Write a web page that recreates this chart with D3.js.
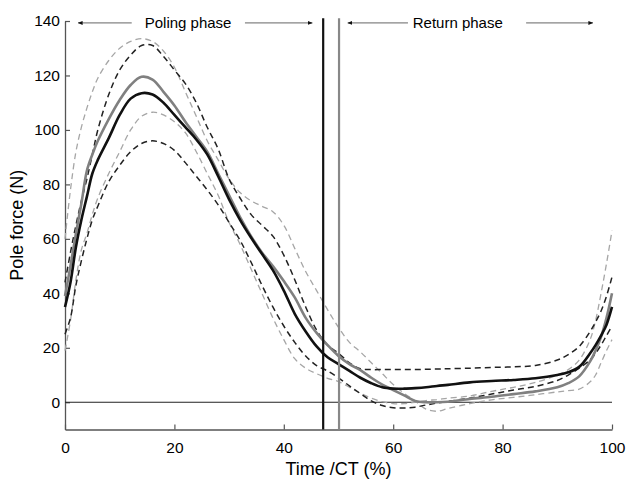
<!DOCTYPE html>
<html>
<head>
<meta charset="utf-8">
<script src="https://cdn.jsdelivr.net/npm/d3@7"></script>
<style>
  body { margin: 0; background: #fff; }
  svg text { font-family: "Liberation Sans", Arial, sans-serif; }
</style>
</head>
<body>
<div id="chart"></div>
<script>
// sample points (% of cycle time)
var timePct = [0,1,2,3,4,5,6,8,10,12,14,16,18,20,22,24,26,28,30,32,34,36,38,40,42,44,46,48,50,52,54,56,58,60,62,64,66,68,70,74,78,82,86,90,92,94,96,97,98,99,100];

// group A mean (black) and +/- SD (black dashed)
var meanA = [35,44,57,67,75.5,84,89,97,105.5,111.5,113.5,113,110,105.5,101,96.5,91,83,74.5,67,60.5,54.5,48.5,41,32.5,26,20.5,16.5,14,11.5,9,7,5.5,5,5,5.2,5.5,6,6.4,7.3,7.8,8.2,8.8,10,11,13,18,21,24.5,28.5,35];
var upperA = [44,55,65,74,82,91,100,113,122,127.5,131,131,127,122,117,110,101,93,82,75,69,65,61,54,45,35,26.5,21,18,14.5,12.3,12,12,12,12,12,12.1,12.2,12.3,12.5,12.8,13,13.5,15.5,17.5,20.5,26,29.5,33.5,39,46];
var lowerA = [25,31,43,52,60,67,72,81,87,92,95,96,95,92.5,88,83,78,72.5,66,59.5,51.5,43,35,28,22,17,13.5,11.5,9,6,3.2,0.5,-1.2,-2,-2.1,-1.8,-1,-0.3,0.3,1.5,3,4.5,5.8,8,10,12.5,15.6,18,21,24.5,28];

// group B mean (grey) and +/- SD (grey dashed)
var meanB = [39,50,62,73,85,91,96,104,111,116.5,119.5,118.5,114,109,103,97.5,92,84,76,68,61,55,50,44.5,38.5,31,25.5,21,17,14,11.8,9,6.5,4.5,2.5,0.5,0,0,0.2,1.2,2,3,4,5.5,7,9.5,15,19,24,31,40];
var upperB = [60,78,92,101,108,114,119,125.5,130,132.5,133.5,132.5,129,123,114,105,96,89,82,77,74,72,70,65,56.5,48,41,34,27.5,22,18.5,14.5,10.5,6.5,3.3,0.5,-2.5,-3.3,-2.3,-0.5,0.9,1.8,2.8,3.8,4.3,4.8,7.5,10,14.5,19,23];
var lowerB = [19,30,45,56,62,69,75,84,92,100,105,106.5,105.5,103,99,92,84,76,66,58,49,40,31,23,16,12.5,10.5,8.8,7.6,5.5,3.3,1.5,0.2,-0.5,-0.5,0,0.6,1,1.5,2.3,4,5.5,7.3,10,12,15.5,23,30,40,51,63];

// phase boundaries (% CT)
var phaseEnd = [47.2, 50.1];

var xTicks = [0,20,40,60,80,100];
var yTicks = [0,20,40,60,80,100,120,140];

var width = 627, height = 484;
var margin = {left: 65, right: 15, top: 21, bottom: 54.5};
var font = "'Liberation Sans', Arial, sans-serif";

var svg = d3.select("#chart").append("svg")
    .attr("width", width)
    .attr("height", height);

var x = d3.scaleLinear().domain([0, 100]).range([margin.left, width - margin.right]);
var y = d3.scaleLinear().domain([-10, 140]).range([height - margin.bottom, margin.top]);

// axes, ticks pointing in
var xAxis = svg.append("g")
    .attr("transform", "translate(0," + y(-10) + ")")
    .call(d3.axisBottom(x).tickValues(xTicks).tickSizeInner(-5).tickSizeOuter(0).tickPadding(12));
var yAxis = svg.append("g")
    .attr("transform", "translate(" + x(0) + ",0)")
    .call(d3.axisLeft(y).tickValues(yTicks).tickSizeInner(-5).tickSizeOuter(0).tickPadding(5));

[xAxis, yAxis].forEach(function(a) {
    a.attr("font-family", font).attr("font-size", 15.5);
    a.select(".domain").attr("stroke", "#555").attr("stroke-width", 1.3);
    a.selectAll(".tick line").attr("stroke", "#555").attr("stroke-width", 1.2);
    a.selectAll(".tick text").attr("fill", "#000");
});

// zero line
svg.append("line")
    .attr("x1", x(0)).attr("x2", x(100))
    .attr("y1", y(0)).attr("y2", y(0))
    .attr("stroke", "#222").attr("stroke-width", 1.2);

var line = d3.line()
    .x(function(d, i) { return x(timePct[i]); })
    .y(function(d) { return y(d); })
    .curve(d3.curveCatmullRom.alpha(0.5));

var series = [
    {v: upperB, color: "#a6a6a6", w: 1.3, dash: "6,4"},
    {v: lowerB, color: "#a6a6a6", w: 1.3, dash: "6,4"},
    {v: upperA, color: "#222", w: 1.5, dash: "6,4"},
    {v: lowerA, color: "#222", w: 1.5, dash: "6,4"},
    {v: meanB, color: "#808080", w: 2.6, dash: null},
    {v: meanA, color: "#111", w: 2.6, dash: null}
];

svg.append("g").selectAll("path")
    .data(series)
    .join("path")
    .attr("fill", "none")
    .attr("stroke", function(d) { return d.color; })
    .attr("stroke-width", function(d) { return d.w; })
    .attr("stroke-dasharray", function(d) { return d.dash; })
    .attr("d", function(d) { return line(d.v); });

// phase boundary lines
svg.append("g").selectAll("line")
    .data(phaseEnd)
    .join("line")
    .attr("x1", function(d) { return x(d); })
    .attr("x2", function(d) { return x(d); })
    .attr("y1", y(141))
    .attr("y2", y(-10))
    .attr("stroke", function(d, i) { return i ? "#888" : "#111"; })
    .attr("stroke-width", 2.2);

// arrow markers
svg.append("defs").append("marker")
    .attr("id", "head")
    .attr("viewBox", "0 0 10 10")
    .attr("refX", 9).attr("refY", 5)
    .attr("markerWidth", 5).attr("markerHeight", 5)
    .attr("orient", "auto-start-reverse")
    .append("path")
    .attr("d", "M0,1L10,5L0,9z")
    .attr("fill", "#111");

var arrows = [
    {from: 12.2, to: 2.4},
    {from: 32.9, to: 45.2},
    {from: 62.7, to: 51.7},
    {from: 84.3, to: 96.5}
];
svg.append("g").selectAll("line")
    .data(arrows)
    .join("line")
    .attr("x1", function(d) { return x(d.from); })
    .attr("x2", function(d) { return x(d.to); })
    .attr("y1", y(139.3)).attr("y2", y(139.3))
    .attr("stroke", "#666").attr("stroke-width", 1)
    .attr("marker-end", "url(#head)");

var phases = [{label: "Poling phase", at: 22.5}, {label: "Return phase", at: 71.8}];
svg.append("g").selectAll("text")
    .data(phases)
    .join("text")
    .attr("x", function(d) { return x(d.at); })
    .attr("y", y(139.3) + 5)
    .attr("text-anchor", "middle")
    .attr("font-size", 15)
    .text(function(d) { return d.label; });

// axis titles
svg.append("text")
    .attr("x", x(50))
    .attr("y", 475)
    .attr("text-anchor", "middle")
    .attr("font-size", 18)
    .text("Time /CT (%)");

svg.append("text")
    .attr("transform", "translate(23," + y(65) + ") rotate(-90)")
    .attr("text-anchor", "middle")
    .attr("font-size", 18)
    .text("Pole force (N)");
</script>
</body>
</html>
